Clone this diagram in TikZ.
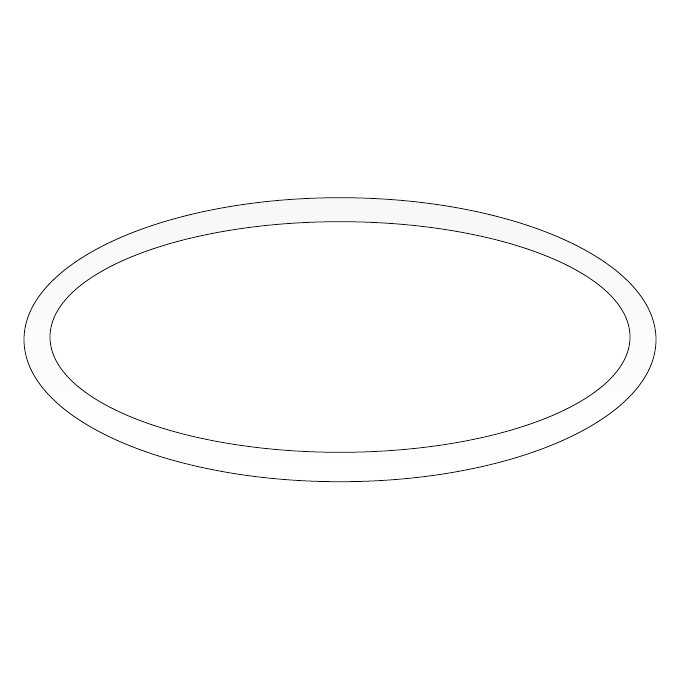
\documentclass[tikz,border=0pt]{standalone}
\tikzstyle{ring line} = [draw,line width=0.75pt,black]
\tikzstyle{ring fill} = [even odd rule,top color=black!3,bottom color=white]
\begin{document}
\begin{tikzpicture}[x=1pt,y=-1pt]
\useasboundingbox (0,0) rectangle (680,680);
\shade[ring fill] (340,339.7) ellipse (316 and 142)
                  (340,337) ellipse (290 and 115.3);
\path[ring line] (340,339.7) ellipse (316 and 142);
\path[ring line] (340,337) ellipse (290 and 115.3);
\end{tikzpicture}
\end{document}
